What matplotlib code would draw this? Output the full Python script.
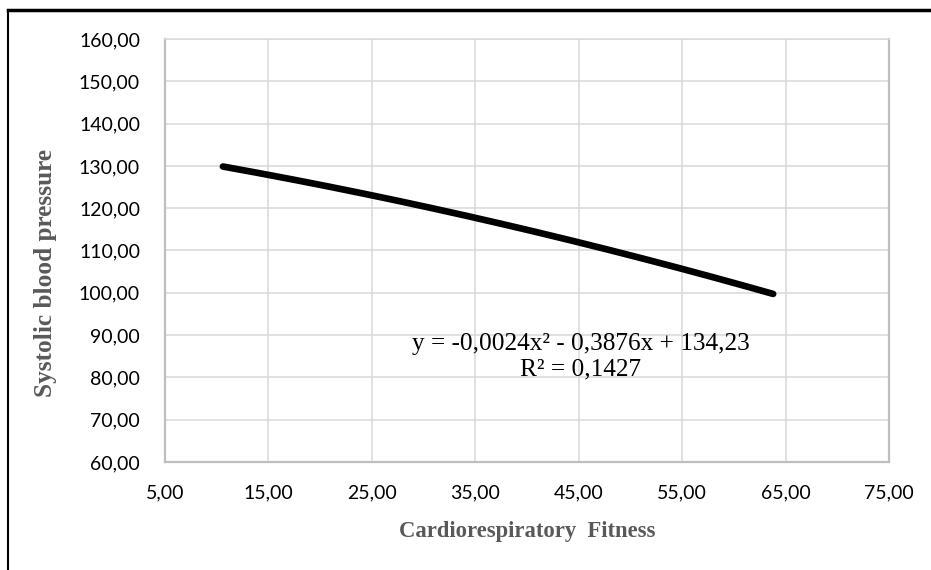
import numpy as np
import matplotlib
matplotlib.use("Agg")
import matplotlib.pyplot as plt
from matplotlib.lines import Line2D
from matplotlib.ticker import FuncFormatter

# Quadratic trendline: coefficients (x^2, x, const) and fitted x-range
trend_coefs = [-0.0024, -0.3876, 134.23]
x_start, x_end = 10.6, 63.8
r_squared = 0.1427

x_ticks = [5, 15, 25, 35, 45, 55, 65, 75]
y_ticks = [60, 70, 80, 90, 100, 110, 120, 130, 140, 150, 160]

x_label = "Cardiorespiratory  Fitness"
y_label = "Systolic blood pressure"

fig = plt.figure(figsize=(9.31, 5.70), dpi=100)
ax = fig.add_axes([165 / 931, 1 - 462 / 570, 724 / 931, 423 / 570])

xs = np.linspace(x_start, x_end, 300)
ax.plot(xs, np.polyval(trend_coefs, xs), color="black", lw=4.8,
        solid_capstyle="round", zorder=3)

ax.set_xlim(x_ticks[0], x_ticks[-1])
ax.set_ylim(y_ticks[0], y_ticks[-1])
ax.set_xticks(x_ticks)
ax.set_yticks(y_ticks)

fmt = FuncFormatter(lambda v, p: f"{v:.2f}".replace(".", ","))
ax.xaxis.set_major_formatter(fmt)
ax.yaxis.set_major_formatter(fmt)

ax.grid(True, color="#d9d9d9", lw=1.1, zorder=0)
ax.set_axisbelow(True)
for side in ("left", "bottom", "right"):
    ax.spines[side].set_color("#bfbfbf")
    ax.spines[side].set_linewidth(1.6)
ax.spines["top"].set_color("#d9d9d9")
ax.spines["top"].set_linewidth(1.1)

ax.tick_params(length=0, labelsize=14, colors="black")
ax.tick_params(axis="x", pad=16)
ax.tick_params(axis="y", pad=18)
for lab in ax.get_xticklabels() + ax.get_yticklabels():
    lab.set_family("Lato")

ax.set_xlabel(x_label, family="Liberation Serif", fontweight="bold",
              fontsize=16.3, color="#595959", labelpad=14.5)
ax.set_ylabel(y_label, family="Liberation Serif", fontweight="bold",
              fontsize=18.2, color="#595959")
ax.yaxis.set_label_coords(-0.149, 0.447)

eq_text = ("y = -0,0024x\u00b2 - 0,3876x + 134,23\n"
           f"R\u00b2 = {r_squared:.4f}".replace(".", ","))
ax.text(45.2, 84.8, eq_text, family="Liberation Serif", fontsize=18.2,
        ha="center", va="center", linespacing=1.2, color="black")

# Outer frame: top and left edges
fig.add_artist(Line2D([8 / 931, 1.0], [1 - 10 / 570, 1 - 10 / 570],
                      transform=fig.transFigure, color="black", lw=2.5))
fig.add_artist(Line2D([8 / 931, 8 / 931], [0.0, 1 - 10 / 570],
                      transform=fig.transFigure, color="black", lw=1.5))

fig.savefig("out.png", dpi=100)
